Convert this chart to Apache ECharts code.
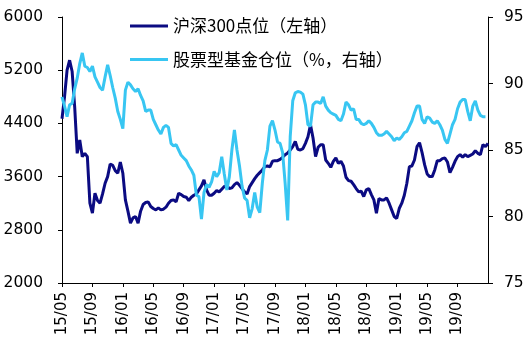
<!DOCTYPE html>
<html>
<head>
<meta charset="utf-8">
<script src="https://cdn.jsdelivr.net/npm/echarts@6/dist/echarts.min.js"></script>
<style>
html,body{margin:0;padding:0;background:#fff;}
#chart{width:529px;height:346px;}
</style>
</head>
<body>
<div id="chart"></div>
<script>
// Tick labels shown on the x axis (every 4 months)
const tickLabels = ['15/05','15/09','16/01','16/05','16/09','17/01','17/05','17/09','18/01','18/05','18/09','19/01','19/05','19/09'];
const seriesNames = ['沪深300点位（左轴）', '股票型基金仓位（%，右轴）'];

// CSI 300 level (left axis), ~3 readings per month from 2015/05 to 2020/01
const csi300 = [
4470,4800,5200,5350,5180,4650,3950,4150,3900,3950,
3900,3200,3050,3350,3240,3200,3340,3500,3600,3790,
3770,3690,3650,3820,3650,3250,3080,2900,2980,3000,
2900,3080,3180,3210,3220,
3150,3120,3100,3130,3100,3110,3140,3200,3240,3250,3220,3350,3330,3300,3290,3240,3290,3320,3340,3400,3460,3550,3400,3320,3320,3350,3390,3370,3410,3450,3460,3420,3430,3480,3510,3470,3420,3370,3340,3450,3510,3570,3620,3660,3700,3750,3760,3745,3830,3840,3840,3860,3890,3930,3955,4000,4050,4130,4010,4000,4020,4100,4200,4380,4180,3900,4040,4080,4080,
3850,3800,3740,3830,3880,3800,3830,3760,3590,3540,3530,3480,3420,3370,3380,3300,3400,3420,3330,3250,3050,3270,3250,3250,3280,3200,3100,3000,2970,3120,3200,3320,3500,3750,3760,3850,4050,4110,3960,3780,3640,3600,3600,3700,3840,3840,3870,3880,3820,3660,3740,3830,3900,3930,3890,3930,3900,3920,3940,3990,3950,3930,4080,
4050,4100
];

// Equity fund position, % (right axis)
const fundPosition = [
89.0,88.3,87.5,88.4,88.5,89.6,90.4,91.5,92.3,91.3,
91.2,90.9,91.3,90.5,90.1,89.7,89.5,90.5,91.4,90.6,
89.7,88.9,87.9,87.3,86.6,89.5,90.1,89.9,89.6,89.4,
89.6,89.1,88.7,87.9,88.0,
88.0,87.3,86.9,86.5,86.2,86.7,86.85,86.7,85.5,85.3,85.4,85.0,84.6,84.4,84.2,83.8,83.5,83.1,81.6,81.5,79.8,81.8,82.4,82.2,82.6,83.4,83.0,83.3,84.5,83.2,82.0,83.0,85.0,86.5,85.0,83.8,82.3,81.4,81.2,79.9,80.6,81.8,80.7,80.3,82.5,84.2,85.0,86.8,87.2,86.5,85.6,85.5,84.8,82.5,79.7,86.0,88.7,89.3,89.4,89.35,89.2,88.4,86.9,86.8,88.4,88.6,88.6,88.5,
89.0,88.3,88.0,87.8,87.7,87.6,87.3,87.2,87.7,88.6,88.4,88.0,88.1,87.3,87.3,87.0,86.9,87.0,87.2,87.0,86.7,86.3,86.1,86.1,86.2,86.4,86.2,86.0,85.7,85.9,85.8,86.0,86.3,86.4,86.8,87.2,87.8,88.3,88.3,87.3,87.0,87.5,87.4,87.1,87.0,87.2,86.9,86.5,85.8,85.5,86.2,86.9,87.3,88.1,88.6,88.8,88.8,87.9,87.2,88.3,88.7,88.0,87.6,
87.5,87.5
];

// Category axis: 3 readings per month starting 2015/05
const categories = [];
for (let i = 0; i < csi300.length; i++) {
  const m = Math.floor(i / 3);
  const y = 15 + Math.floor((4 + m) / 12);
  const mo = ((4 + m) % 12) + 1;
  categories.push(y + '/' + String(mo).padStart(2, '0') + '-' + (i % 3));
}

const DARK = '#0B0B82';
const LIGHT = '#38C6F2';
const tickEvery = 12;
const showTick = function (idx) { return idx % tickEvery === 0 && idx / tickEvery < tickLabels.length; };

const chart = echarts.init(document.getElementById('chart'), null, {renderer: 'canvas'});
chart.setOption({
  animation: false,
  backgroundColor: '#ffffff',
  grid: {left: 62, right: 41, top: 17, bottom: 63, containLabel: false, outerBoundsMode: 'none'},
  legend: {
    data: seriesNames.map(function (n) { return {name: n, icon: 'rect'}; }),
    orient: 'vertical',
    left: 125,
    top: 12,
    itemWidth: 38,
    itemHeight: 3,
    itemGap: 15.6,
    textStyle: {fontSize: 17, fontFamily: 'Noto Sans CJK SC', color: '#000', lineHeight: 18}
  },
  xAxis: {
    type: 'category',
    data: categories,
    boundaryGap: false,
    axisLine: {show: true, lineStyle: {color: '#000', width: 1}},
    axisTick: {show: true, interval: showTick, length: 4, lineStyle: {color: '#000'}},
    axisLabel: {
      interval: showTick,
      rotate: 90,
      margin: 9,
      fontSize: 15,
      fontFamily: 'DejaVu Sans',
      color: '#000',
      formatter: function (v, idx) { return tickLabels[idx / tickEvery]; }
    },
    splitLine: {show: false}
  },
  yAxis: [
    {
      type: 'value', position: 'left', min: 2000, max: 6000, interval: 800,
      axisLine: {show: true, lineStyle: {color: '#000', width: 1}},
      axisTick: {show: true, length: 4, lineStyle: {color: '#000'}},
      axisLabel: {margin: 19, fontSize: 15.5, fontFamily: 'DejaVu Sans', color: '#000',
        formatter: function (v) { return String(v); }},
      splitLine: {show: false}
    },
    {
      type: 'value', position: 'right', min: 75, max: 95, interval: 5,
      axisLine: {show: true, lineStyle: {color: '#000', width: 1}},
      axisTick: {show: true, length: 5, lineStyle: {color: '#000'}},
      axisLabel: {margin: 16, fontSize: 15.5, fontFamily: 'DejaVu Sans', color: '#000',
        formatter: function (v) { return String(v); }},
      splitLine: {show: false}
    }
  ],
  series: [
    {
      name: seriesNames[0], type: 'line', yAxisIndex: 0, data: csi300,
      symbol: 'none', lineStyle: {color: DARK, width: 3}, itemStyle: {color: DARK}
    },
    {
      name: seriesNames[1], type: 'line', yAxisIndex: 1, data: fundPosition,
      symbol: 'none', lineStyle: {color: LIGHT, width: 3}, itemStyle: {color: LIGHT}
    }
  ]
});
</script>
</body>
</html>
